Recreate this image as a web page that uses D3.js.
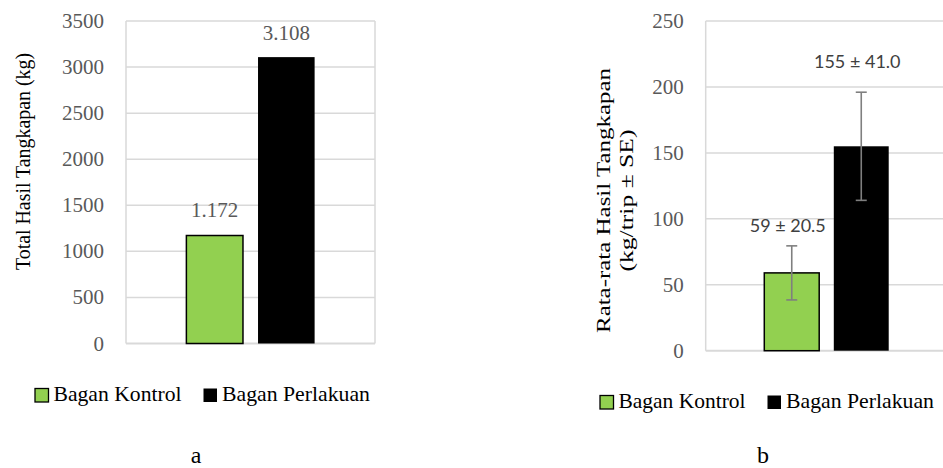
<!DOCTYPE html>
<html lang="en">
<head>
    <meta charset="UTF-8">
    <title>Hasil Tangkapan</title>
    <style>
        body { margin: 0; background: #fff; }
        svg { display: block; }
    </style>
</head>
<body>
<script src="https://cdn.jsdelivr.net/npm/d3@7"></script>
<script>
    const width = 943;
    const height = 468;

    // data
    const series = ["Bagan Kontrol", "Bagan Perlakuan"];
    const colors = ["#92d050", "#000000"];

    const totalValues = [1172, 3108];
    const totalLabels = ["1.172", "3.108"];
    const totalTicks = [0, 500, 1000, 1500, 2000, 2500, 3000, 3500];

    const meanValues = [59, 155];
    const meanSE = [20.5, 41.0];
    const meanLabels = ["59 ± 20.5", "155 ± 41.0"];
    const meanTicks = [0, 50, 100, 150, 200, 250];

    const serif = "'Liberation Serif', 'Times New Roman', serif";
    const sans = "Lato, 'Open Sans', sans-serif";
    const grid = "#d9d9d9";
    const tickColor = "#595959";

    const svg = d3.select("body").append("svg")
        .attr("width", width)
        .attr("height", height);

    function panel(opt) {
        const g = svg.append("g");
        const y = d3.scaleLinear().domain([0, opt.ticks[opt.ticks.length - 1]])
            .range([opt.bottom, opt.top]);
        const mid = (opt.left + opt.right) / 2;
        const half = (opt.right - opt.left) * 0.515 / 2;
        const x = d3.scaleBand().domain(series)
            .range([mid - half, mid + half])
            .paddingInner(0.21);

        // gridlines
        g.selectAll(".grid").data(opt.ticks).enter().append("line")
            .attr("x1", opt.left).attr("x2", opt.right)
            .attr("y1", d => y(d)).attr("y2", d => y(d))
            .attr("stroke", grid)
            .attr("stroke-width", d => d === 0 ? 2 : 1.5);
        // plot border
        [opt.left, opt.right].forEach(bx => {
            g.append("line").attr("x1", bx).attr("x2", bx)
                .attr("y1", opt.top).attr("y2", opt.bottom)
                .attr("stroke", grid).attr("stroke-width", 1.5);
        });

        // tick labels
        g.selectAll(".tick").data(opt.ticks).enter().append("text")
            .attr("x", opt.left - 22)
            .attr("y", d => y(d) + 7)
            .attr("text-anchor", "end")
            .attr("font-family", serif)
            .attr("font-size", 21)
            .attr("fill", tickColor)
            .text(d => d);

        // bars
        g.selectAll(".bar").data(opt.values).enter().append("rect")
            .attr("x", (d, i) => x(series[i]))
            .attr("width", x.bandwidth())
            .attr("y", d => y(d))
            .attr("height", d => y(0) - y(d))
            .attr("fill", (d, i) => colors[i])
            .attr("stroke", "#000")
            .attr("stroke-width", (d, i) => i === 0 ? 1.5 : 0);

        // error bars
        if (opt.se) {
            opt.values.forEach((v, i) => {
                const cx = x(series[i]) + x.bandwidth() / 2;
                const e = g.append("g").attr("stroke", "#7f7f7f").attr("stroke-width", 1.6);
                e.append("line").attr("x1", cx).attr("x2", cx)
                    .attr("y1", y(v + opt.se[i])).attr("y2", y(v - opt.se[i]));
                [v + opt.se[i], v - opt.se[i]].forEach(t => {
                    e.append("line").attr("x1", cx - 5.5).attr("x2", cx + 5.5)
                        .attr("y1", y(t)).attr("y2", y(t));
                });
            });
        }

        // value labels
        g.selectAll(".lab").data(opt.labels).enter().append("text")
            .attr("x", (d, i) => x(series[i]) + x.bandwidth() / 2 + opt.labelDx)
            .attr("y", (d, i) => y(opt.labelAt[i]))
            .attr("text-anchor", "middle")
            .attr("font-family", opt.se ? sans : serif)
            .attr("font-size", opt.se ? 18 : 21)
            .attr("fill", opt.se ? "#404040" : tickColor)
            .text(d => d);

        // axis title
        const t = g.append("text")
            .attr("transform", `translate(${opt.titleX},${opt.titleY}) rotate(-90)`)
            .attr("text-anchor", "middle")
            .attr("font-family", serif)
            .attr("font-size", opt.titleSize)
            .attr("fill", "#000");
        opt.title.forEach((line, i) => {
            t.append("tspan").attr("x", 0).attr("dy", i === 0 ? 0 : 23)
                .attr("textLength", opt.titleLen[i])
                .attr("lengthAdjust", "spacingAndGlyphs")
                .text(line);
        });

        // legend
        const lg = g.append("g");
        let lx = opt.legendX;
        series.forEach((s, i) => {
            lg.append("rect")
                .attr("x", lx).attr("y", opt.legendY - 12.5)
                .attr("width", 13.5).attr("height", 13.5)
                .attr("fill", colors[i])
                .attr("stroke", "#000").attr("stroke-width", i === 0 ? 1.3 : 0);
            lg.append("text")
                .attr("x", lx + 18.5).attr("y", opt.legendY)
                .attr("font-family", serif)
                .attr("font-size", 21)
                .attr("fill", "#000")
                .attr("textLength", opt.legendLen[i])
                .attr("lengthAdjust", "spacingAndGlyphs")
                .text(s);
            lx += 18.5 + opt.legendLen[i] + 22;
        });

        // panel letter
        g.append("text")
            .attr("x", opt.letterX).attr("y", 463)
            .attr("text-anchor", "middle")
            .attr("font-family", serif)
            .attr("font-size", 24)
            .text(opt.letter);
    }

    panel({
        left: 126, right: 375, top: 21, bottom: 343.5,
        ticks: totalTicks, values: totalValues, labels: totalLabels,
        labelAt: [1373, 3295], labelDx: 0,
        title: ["Total Hasil Tangkapan (kg)"], titleLen: [217], titleSize: 20,
        titleX: 30, titleY: 161.5,
        legendX: 35, legendY: 401, legendLen: [128, 148],
        letter: "a", letterX: 196
    });

    panel({
        left: 705.7, right: 947.3, top: 21, bottom: 350.7,
        ticks: meanTicks, values: meanValues, labels: meanLabels,
        se: meanSE, labelAt: [90.3, 214.5], labelDx: -4,
        title: ["Rata-rata Hasil Tangkapan", "(kg/trip ± SE)"], titleLen: [265, 142], titleSize: 19,
        titleX: 610, titleY: 200.5,
        legendX: 600, legendY: 408, legendLen: [127, 148],
        letter: "b", letterX: 763
    });
</script>
</body>
</html>
